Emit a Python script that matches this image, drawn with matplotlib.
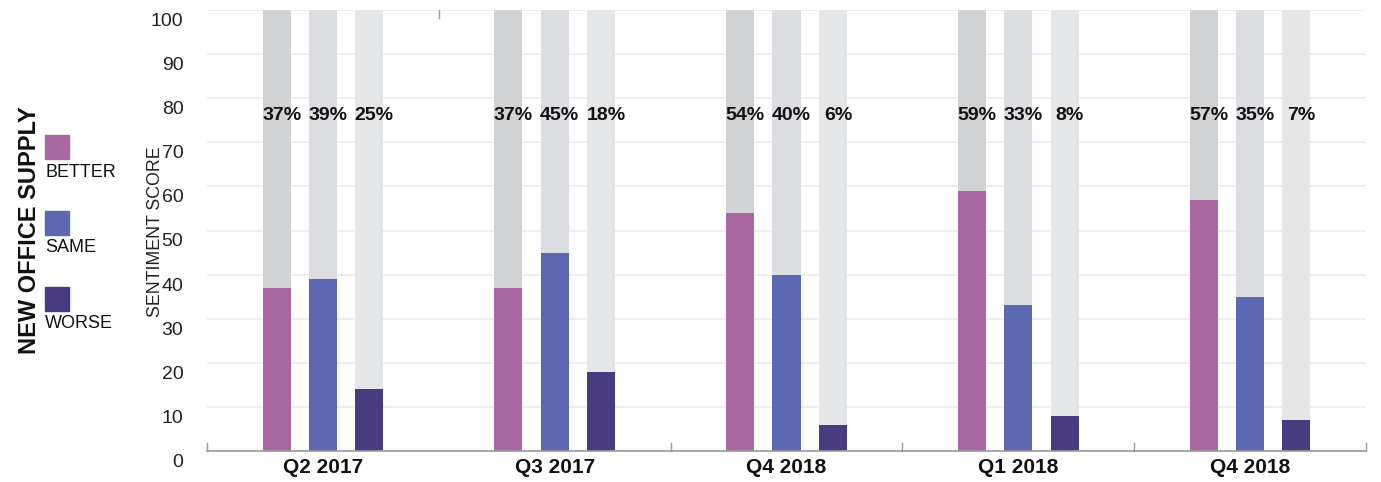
import matplotlib
matplotlib.use("Agg")
import matplotlib.pyplot as plt
import matplotlib.transforms as mtransforms
from matplotlib.patches import Rectangle
import numpy as np

plt.rcParams['font.family'] = ['Liberation Sans', 'DejaVu Sans']

categories = ["Q2 2017", "Q3 2017", "Q4 2018", "Q1 2018", "Q4 2018"]
series_names = ["BETTER", "SAME", "WORSE"]
better = [37, 37, 54, 59, 57]
same = [39, 45, 40, 33, 35]
worse = [14, 18, 6, 8, 7]
better_labels = ["37%", "37%", "54%", "59%", "57%"]
same_labels = ["39%", "45%", "40%", "33%", "35%"]
worse_labels = ["25%", "18%", "6%", "8%", "7%"]
yticks = [0, 10, 20, 30, 40, 50, 60, 70, 80, 90, 100]

colors = ["#ab67a2", "#5c68b1", "#483b80"]
bg_colors = ["#d1d2d4", "#dcdde0", "#e5e6e8"]

fig = plt.figure(figsize=(13.81, 4.82), dpi=100)
ax = fig.add_axes([207/1381, 31/482, 1159/1381, 441/482])

x = np.arange(len(categories))
offsets = [-0.2, 0.0, 0.2]
width = 0.121
values = [better, same, worse]
labels = [better_labels, same_labels, worse_labels]

for k in range(3):
    ax.bar(x + offsets[k], [100]*len(x), width=width, color=bg_colors[k], zorder=1)
    ax.bar(x + offsets[k], values[k], width=width, color=colors[k], zorder=2)
    for i in range(len(x)):
        ax.text(x[i] + offsets[k] + 0.022, 76, labels[k][i], ha='center', va='center',
                fontsize=14, fontweight='bold', color='#111111', zorder=3)

ax.set_xlim(-0.5, len(categories) - 0.5)
ax.set_ylim(0, 100)
ax.set_yticks(yticks)
ax.set_yticklabels([str(t) for t in yticks], fontsize=14, color='#222222')
ax.yaxis.grid(True, color='#ebebeb', linewidth=1.2, zorder=0)
ax.set_axisbelow(True)
ax.tick_params(axis='y', length=0, pad=17)
shift = mtransforms.ScaledTranslation(0, -9.5/100, fig.dpi_scale_trans)
for lbl in ax.get_yticklabels():
    lbl.set_transform(lbl.get_transform() + shift)

ax.set_xticks(x)
ax.set_xticklabels(categories, fontsize=15, fontweight='bold', color='#111111')
ax.tick_params(axis='x', length=0, pad=5)

for s in ['top', 'right', 'left']:
    ax.spines[s].set_visible(False)
ax.spines['bottom'].set_color('#9a9a9a')
ax.spines['bottom'].set_linewidth(1.2)

# boundary ticks
trans = mtransforms.blended_transform_factory(ax.transData, ax.transAxes)
bounds = np.arange(len(categories) + 1) - 0.5
for j, b in enumerate(bounds):
    if j == 1:
        ax.plot([b, b], [0.982, 1.0], transform=trans, color='#9a9a9a', lw=1, clip_on=False)
    else:
        ax.plot([b, b], [0.0, 0.018], transform=trans, color='#9a9a9a', lw=1, clip_on=False)

# y label
fig.text(155/1381, 1 - 232/482, "SENTIMENT SCORE", rotation=90, ha='center', va='center',
         fontsize=12.8, color='#222222')
# title
fig.text(30/1381, 1 - 230/482, "NEW OFFICE SUPPLY", rotation=90, ha='center', va='center',
         fontsize=17, fontweight='bold', color='#111111')

# legend
legend_tops = [135, 211, 287]
for k in range(3):
    y0 = legend_tops[k]
    fig.patches.append(Rectangle((45/1381, 1 - (y0 + 24)/482), 24/1381, 24/482,
                                 transform=fig.transFigure, color=colors[k]))
    fig.text(45/1381, 1 - (y0 + 37)/482, series_names[k], ha='left', va='center',
             fontsize=13, color='#111111')

fig.savefig("out.png", dpi=100)
